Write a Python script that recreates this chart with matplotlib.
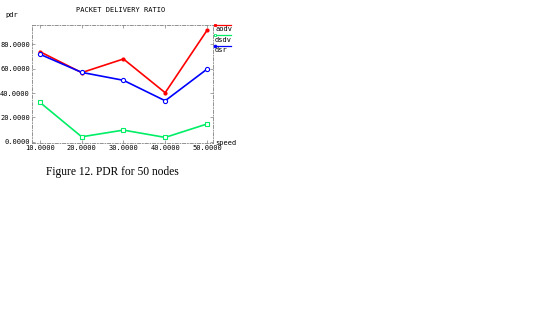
import matplotlib
matplotlib.use("Agg")
import matplotlib.pyplot as plt
from matplotlib.lines import Line2D

# data
speed = [10, 20, 30, 40, 50]
aodv = [74.0, 56.8, 68.0, 40.3, 91.4]
dsdv = [32.4, 4.1, 9.6, 3.6, 14.6]
dsr = [71.9, 57.0, 50.5, 33.7, 59.6]
yticks = [0, 20, 40, 60, 80]

mono = "DejaVu Sans Mono"

fig = plt.figure(figsize=(5.33, 3.15), dpi=100, facecolor="w")
ax = fig.add_axes([0.060, 0.546, 0.340, 0.375])

ax.plot(speed, aodv, color="#ff0000", lw=1.2, marker="o", ms=2, mfc="#ff0000", mec="#ff0000")
ax.plot(speed, dsdv, color="#00ee66", lw=1.2, marker="s", ms=3, mfc="w", mec="#00ee66", mew=0.8)
ax.plot(speed, dsr, color="#0000ff", lw=1.2, marker="o", ms=3, mfc="w", mec="#0000ff", mew=0.8)

ax.set_xlim(8.1, 51.5)
ax.set_ylim(-1, 96)
ax.set_xticks(speed)
ax.set_xticklabels(["%d.0000" % v for v in speed], fontsize=5, family=mono)
ax.set_yticks(yticks)
ax.set_yticklabels(["%d.0000" % v for v in yticks], fontsize=5, family=mono)
ax.tick_params(axis="both", which="both", length=2, width=0.5, color="#808080",
               pad=1.5, top=True, right=True, direction="in")
for sp in ax.spines.values():
    sp.set_linestyle((0, (4, 2, 1, 2)))
    sp.set_color("#808080")
    sp.set_linewidth(0.6)

fig.text(76 / 533, 1 - 10 / 315, "PACKET DELIVERY RATIO", fontsize=5, family=mono, va="center")
fig.text(5 / 533, 1 - 15 / 315, "pdr", fontsize=5, family=mono, va="center")
fig.text(215 / 533, 1 - 143 / 315, "speed", fontsize=5, family=mono, va="center")

# legend drawn at the right side of the frame
names = ["aodv", "dsdv", "dsr"]
cols = ["#ff0000", "#00ee66", "#0000ff"]
marks = ["s", "s", "o"]
for i, (n, c, m) in enumerate(zip(names, cols, marks)):
    y = 1 - (25 + 10.3 * i) / 315
    fig.add_artist(Line2D([214 / 533, 231 / 533], [y, y], color=c, lw=0.9,
                          transform=fig.transFigure))
    fig.add_artist(Line2D([215 / 533], [y], color=c, marker=m, ms=2,
                          mfc=c if i != 1 else "w", mec=c, mew=0.6,
                          transform=fig.transFigure))
    fig.text(215 / 533, y - 4.5 / 315, n, fontsize=5, family=mono, va="center")

fig.text(112 / 533, 1 - 172 / 315, "Figure 12. PDR for 50 nodes", fontsize=8.3,
         family="Liberation Serif", ha="center", va="center")

fig.savefig("out.png", dpi=100)
